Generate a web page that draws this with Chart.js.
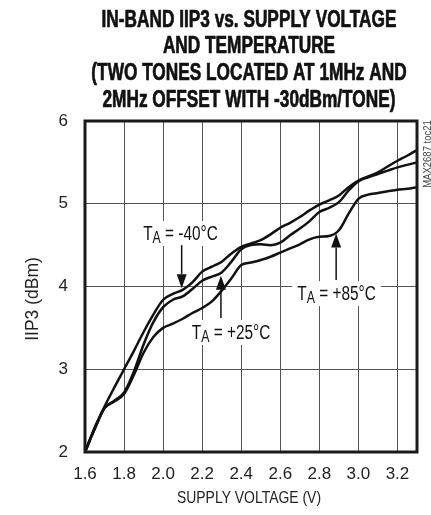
<!DOCTYPE html>
<html><head><meta charset="utf-8">
<script src="https://cdn.jsdelivr.net/npm/chart.js@4.4.1/dist/chart.umd.min.js"></script>
<style>html,body{margin:0;padding:0;background:#fff;}#wrap{width:431px;height:515px;}</style>
</head><body><div id="wrap"><canvas id="c" width="431" height="515"></canvas></div>
<script>
const titleLines = ['IN-BAND IIP3 vs. SUPPLY VOLTAGE', 'AND TEMPERATURE', '(TWO TONES LOCATED AT 1MHz AND', '2MHz OFFSET WITH -30dBm/TONE)'];
const xAxisTitle = 'SUPPLY VOLTAGE (V)';
const yAxisTitle = 'IIP3 (dBm)';
const sideNote = 'MAX2687 toc21';
const voltage = [1.6,1.65,1.7,1.75,1.8,1.85,1.9,1.95,2.0,2.05,2.1,2.15,2.2,2.25,2.3,2.35,2.4,2.45,2.5,2.55,2.6,2.65,2.7,2.75,2.8,2.85,2.9,2.95,3.0,3.05,3.1,3.15,3.2,3.25,3.3];
const iip3Minus40 = [2.0,2.3,2.55,2.78,3.0,3.22,3.45,3.66,3.84,3.91,3.96,4.05,4.18,4.24,4.3,4.4,4.48,4.52,4.56,4.63,4.71,4.77,4.84,4.92,4.99,5.04,5.1,5.2,5.28,5.33,5.38,5.45,5.52,5.58,5.65];
const iip3Plus25 = [2.0,2.28,2.53,2.62,2.72,2.97,3.3,3.57,3.75,3.84,3.88,3.97,4.07,4.12,4.17,4.3,4.45,4.5,4.51,4.5,4.53,4.62,4.7,4.79,4.9,4.95,5.02,5.16,5.27,5.32,5.36,5.4,5.44,5.47,5.5];
const iip3Plus85 = [2.0,2.28,2.53,2.61,2.70,2.93,3.20,3.39,3.50,3.55,3.61,3.68,3.74,3.82,3.95,4.1,4.26,4.29,4.32,4.36,4.41,4.46,4.51,4.57,4.6,4.61,4.68,4.88,5.06,5.11,5.13,5.15,5.17,5.18,5.2];
const seriesNames = ['-40°C', '+25°C', '+85°C'];
const xTickLabels = ['1.6','1.8','2.0','2.2','2.4','2.6','2.8','3.0','3.2'];
const yTickLabels = ['2','3','4','5','6'];

const SANS = '"Liberation Sans", Arial, sans-serif';
const INK = '#111';

// annotation placement (data coordinates): label centre, arrow x, arrow start y, arrow tip y
const notes = [
  {name: seriesNames[0], lx: 2.089, ly: 4.647, ax: 2.095, ay0: 4.50, ay1: 3.98},
  {name: seriesNames[1], lx: 2.348, ly: 3.45,  ax: 2.296, ay0: 3.62, ay1: 4.13},
  {name: seriesNames[2], lx: 2.888, ly: 3.92,  ax: 2.886, ay0: 4.08, ay1: 4.64}
];

function toPts(ys) { return voltage.map((v, i) => ({x: v, y: ys[i]})); }

// condensed text: horizontal squeeze of a regular face
function cText(ctx, text, x, y, font, sx, sy, align, stroke) {
  ctx.save();
  ctx.translate(x, y);
  ctx.scale(sx, sy || 1);
  ctx.font = font; ctx.textAlign = align || 'center'; ctx.textBaseline = 'alphabetic';
  ctx.fillText(text, 0, 0);
  if (stroke) { ctx.lineWidth = stroke; ctx.strokeStyle = ctx.fillStyle; ctx.lineJoin = 'round'; ctx.strokeText(text, 0, 0); }
  ctx.restore();
}

function drawTA(ctx, cx, cy, temp) {
  const sx = 0.77;
  const big = '20px ' + SANS, small = '16px ' + SANS;
  const rest = ' = ' + temp;
  ctx.font = big; const wT = ctx.measureText('T').width * sx; const wR = ctx.measureText(rest).width * sx;
  ctx.font = small; const wA = ctx.measureText('A').width * sx;
  const total = wT + wA + wR;
  ctx.fillStyle = '#fff';
  ctx.fillRect(cx - total / 2 - 5, cy - 12, total + 10, 25);
  ctx.fillStyle = INK;
  let x = cx - total / 2; const base = cy + 7.3;
  cText(ctx, 'T', x, base, big, sx, 1, 'left'); x += wT;
  cText(ctx, 'A', x, base + 3, small, sx, 1, 'left'); x += wA;
  cText(ctx, rest, x, base, big, sx, 1, 'left');
}

function drawArrow(ctx, x, y0, y1) {
  const dir = Math.sign(y1 - y0), hl = 14, hw = 5;
  ctx.strokeStyle = INK; ctx.fillStyle = INK; ctx.lineWidth = 1.5;
  ctx.beginPath(); ctx.moveTo(x, y0); ctx.lineTo(x, y1 - dir * hl); ctx.stroke();
  ctx.beginPath(); ctx.moveTo(x, y1); ctx.lineTo(x - hw, y1 - dir * hl); ctx.lineTo(x + hw, y1 - dir * hl); ctx.closePath(); ctx.fill();
}

const decor = {
  id: 'decor',
  afterDatasetsDraw(chart) {
    const ctx = chart.ctx, xs = chart.scales.x, ys = chart.scales.y;
    ctx.save();
    notes.forEach(n => {
      drawTA(ctx, xs.getPixelForValue(n.lx), ys.getPixelForValue(n.ly), n.name);
      drawArrow(ctx, xs.getPixelForValue(n.ax), ys.getPixelForValue(n.ay0), ys.getPixelForValue(n.ay1));
    });
    ctx.restore();
  },
  afterDraw(chart) {
    const ctx = chart.ctx, a = chart.chartArea;
    ctx.save();
    ctx.strokeStyle = '#1a1a1a'; ctx.lineWidth = 3;
    ctx.strokeRect(a.left, a.top, a.right - a.left, a.bottom - a.top);
    const cx = (a.left + a.right) / 2;
    ctx.fillStyle = INK;
    // title
    titleLines.forEach((t, i) => cText(ctx, t, cx - 2, 26.7 + i * 26.7, 'bold 23px ' + SANS, 0.75, 1, 'center', 0.7));
    // axis titles
    ctx.fillStyle = '#222';
    cText(ctx, xAxisTitle, cx - 2, 503, '17px ' + SANS, 0.82, 1, 'center');
    ctx.save();
    ctx.translate(38, 299); ctx.rotate(-Math.PI / 2);
    cText(ctx, yAxisTitle, 0, 0, '17.5px ' + SANS, 1, 1, 'center');
    ctx.restore();
    // side note
    ctx.save();
    ctx.translate(a.right + 14, a.top + 33);
    ctx.rotate(-Math.PI / 2);
    ctx.fillStyle = '#444';
    cText(ctx, sideNote, 0, 0, '10px ' + SANS, 0.95, 1, 'center');
    ctx.restore();
    ctx.restore();
  }
};

const lineStyle = {borderColor: INK, borderWidth: 2.5, pointRadius: 0, fill: false, cubicInterpolationMode: 'monotone'};

new Chart(document.getElementById('c'), {
  type: 'line',
  data: {
    datasets: [
      Object.assign({label: seriesNames[0], data: toPts(iip3Minus40)}, lineStyle),
      Object.assign({label: seriesNames[1], data: toPts(iip3Plus25)}, lineStyle),
      Object.assign({label: seriesNames[2], data: toPts(iip3Plus85)}, lineStyle)
    ]
  },
  options: {
    responsive: false, animation: false, devicePixelRatio: 1,
    layout: {padding: {top: 121, right: 14, left: 0, bottom: 0}},
    plugins: {legend: {display: false}, tooltip: {enabled: false}, title: {display: false}},
    scales: {
      x: {
        type: 'linear', min: 1.6, max: 3.3,
        ticks: {stepSize: 0.2, includeBounds: false, padding: 12, color: '#222',
          font: {family: SANS, size: 17},
          callback: v => { const s = Number(v).toFixed(1); return xTickLabels.includes(s) ? s : ''; }},
        grid: {drawTicks: false, color: '#555', lineWidth: 1},
        border: {display: false},
        title: {display: false, text: xAxisTitle},
        afterFit: s => { s.height = 63; }
      },
      y: {
        min: 2, max: 6,
        ticks: {stepSize: 1, padding: 17, color: '#222', font: {family: SANS, size: 17},
          callback: (v, i) => yTickLabels[i]},
        grid: {drawTicks: false, color: '#555', lineWidth: 1},
        border: {display: false},
        title: {display: false, text: yAxisTitle},
        afterFit: s => { s.width = 85; }
      }
    }
  },
  plugins: [decor]
});
</script></body></html>
